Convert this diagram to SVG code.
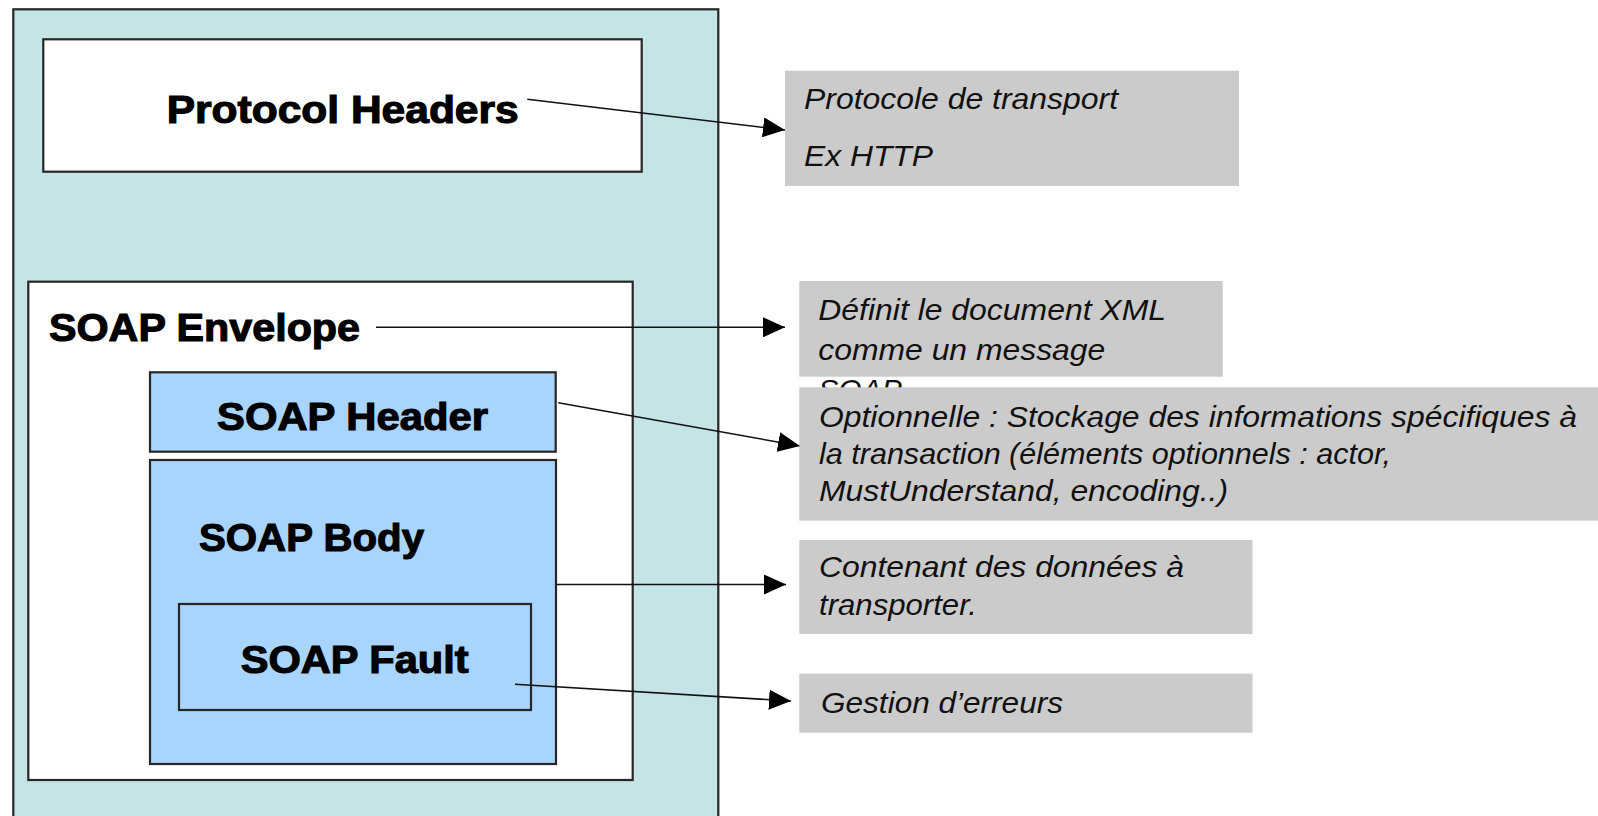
<svg xmlns="http://www.w3.org/2000/svg" width="1598" height="816" viewBox="0 0 1598 816">
<defs>
<style>
.box{stroke:#262626;stroke-width:2.2}
.teal{fill:#c4e4e6}
.white{fill:#ffffff}
.blue{fill:#a9d4fb}
.note{fill:#cbcbcb}
.lbl{font-family:"Liberation Sans",Arial,sans-serif;font-weight:bold;font-size:38px;fill:#000;stroke:#000;stroke-width:1.1}
.it{font-family:"Liberation Sans",Arial,sans-serif;font-style:italic;font-size:30px;fill:#111}
.conn{stroke:#111;stroke-width:1.6;fill:none}
</style>
<marker id="ah" viewBox="0 0 22 20" refX="22" refY="10" markerWidth="22" markerHeight="20" markerUnits="userSpaceOnUse" orient="auto">
<path d="M0,0 L22,10 L0,20 z" fill="#000"/>
</marker>
</defs>
<rect width="1598" height="816" fill="#ffffff"/>

<g id="message">
<rect class="box teal" x="13.3" y="9.3" width="705" height="812"/>
</g>

<g id="protocol-headers">
<rect class="box white" x="43.3" y="39.3" width="598.4" height="132.4"/>
<text class="lbl" x="166.7" y="123.3" textLength="352" lengthAdjust="spacingAndGlyphs">Protocol Headers</text>
</g>

<g id="soap-envelope">
<rect class="box white" x="28.3" y="281.7" width="604.4" height="498.3"/>
<text class="lbl" x="49" y="340.7" textLength="311" lengthAdjust="spacingAndGlyphs">SOAP Envelope</text>
</g>

<g id="soap-header">
<rect class="box blue" x="150" y="372.3" width="405.7" height="79.4"/>
<text class="lbl" x="217" y="429.5" textLength="271" lengthAdjust="spacingAndGlyphs">SOAP Header</text>
</g>

<g id="soap-body">
<rect class="box blue" x="150" y="460" width="406" height="304"/>
<text class="lbl" x="199" y="551" textLength="225" lengthAdjust="spacingAndGlyphs">SOAP Body</text>
</g>

<g id="soap-fault">
<rect class="box blue" x="179" y="604" width="352" height="106"/>
<text class="lbl" x="240.7" y="673.3" textLength="228" lengthAdjust="spacingAndGlyphs">SOAP Fault</text>
</g>

<g id="connectors">
<line class="conn" x1="527.3" y1="99.3" x2="785" y2="130" marker-end="url(#ah)"/>
<line class="conn" x1="376" y1="327.3" x2="785" y2="327.3" marker-end="url(#ah)"/>
<line class="conn" x1="558.3" y1="402.7" x2="800" y2="446" marker-end="url(#ah)"/>
<line class="conn" x1="556" y1="584.5" x2="786" y2="584.5" marker-end="url(#ah)"/>
<line class="conn" x1="515" y1="684.3" x2="791" y2="701" marker-end="url(#ah)"/>
</g>

<g id="note-transport">
<rect class="note" x="785" y="70.7" width="454" height="115.3"/>
<text class="it" x="804" y="109.3" textLength="314" lengthAdjust="spacingAndGlyphs">Protocole de transport</text>
<text class="it" x="804" y="166" textLength="129" lengthAdjust="spacingAndGlyphs">Ex HTTP</text>
</g>

<g id="note-envelope">
<rect class="note" x="799.3" y="281" width="423.4" height="95.7"/>
<text class="it" x="818.3" y="320" textLength="347.7" lengthAdjust="spacingAndGlyphs">Définit le document XML</text>
<text class="it" x="818.3" y="360" textLength="287" lengthAdjust="spacingAndGlyphs">comme un message</text>
<text class="it" x="818.3" y="400">SOAP</text>
</g>

<g id="note-header">
<rect class="note" x="799.3" y="387.3" width="800" height="133.4"/>
<text class="it" x="819" y="426.5" textLength="758" lengthAdjust="spacingAndGlyphs">Optionnelle : Stockage des informations spécifiques à</text>
<text class="it" x="819" y="463.5" textLength="572" lengthAdjust="spacingAndGlyphs">la transaction (éléments optionnels : actor,</text>
<text class="it" x="819" y="500.5" textLength="409" lengthAdjust="spacingAndGlyphs">MustUnderstand, encoding..)</text>
</g>

<g id="note-body">
<rect class="note" x="799.3" y="540" width="453.2" height="94"/>
<text class="it" x="819" y="577" textLength="365" lengthAdjust="spacingAndGlyphs">Contenant des données à</text>
<text class="it" x="819" y="615" textLength="158" lengthAdjust="spacingAndGlyphs">transporter.</text>
</g>

<g id="note-fault">
<rect class="note" x="799.3" y="673.6" width="453.2" height="59.1"/>
<text class="it" x="821" y="713" textLength="242" lengthAdjust="spacingAndGlyphs">Gestion d’erreurs</text>
</g>
</svg>
